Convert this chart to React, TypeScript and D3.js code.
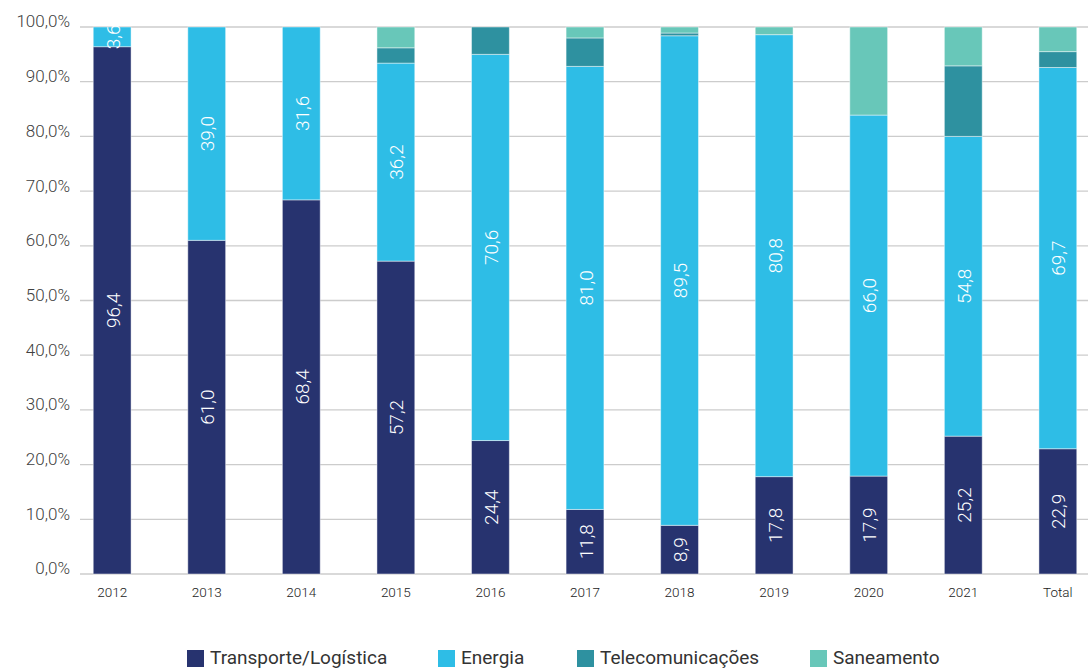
import React from "react";
import * as d3 from "d3";

const categories = ["2012", "2013", "2014", "2015", "2016", "2017", "2018", "2019", "2020", "2021", "Total"];
const seriesNames = ["Transporte/Logística", "Energia", "Telecomunicações", "Saneamento"];
const transporte = [96.4, 61.0, 68.4, 57.2, 24.4, 11.8, 8.9, 17.8, 17.9, 25.2, 22.9];
const energia = [3.6, 39.0, 31.6, 36.2, 70.6, 81.0, 89.5, 80.8, 66.0, 54.8, 69.7];
const telecom = [0, 0, 0, 2.8, 5.0, 5.2, 0.5, 0, 0, 12.9, 2.9];
const saneamento = [0, 0, 0, 3.8, 0, 2.0, 1.1, 1.4, 16.1, 7.1, 4.5];
const labelled = [true, true, false, false];
const colors = ["#27336f", "#2ebde6", "#2e91a0", "#68c7b9"];
const yTicks = [0, 10, 20, 30, 40, 50, 60, 70, 80, 90, 100];

const W = 1088;
const H = 669;
const FONT = "Roboto, 'Noto Sans', sans-serif";

export default function App() {
  const x = d3.scaleBand<string>().domain(categories).range([80, 1090]).paddingInner(0.6).paddingOuter(0.14);
  const y = d3.scaleLinear().domain([0, 100]).range([574, 27]);

  const rows = categories.map((c, i) => ({
    cat: c,
    s0: transporte[i],
    s1: energia[i],
    s2: telecom[i],
    s3: saneamento[i],
  }));
  const stack = d3.stack<any>().keys(["s0", "s1", "s2", "s3"]);
  const layers = stack(rows);
  const fmt = (v: number) => v.toFixed(1).replace(".", ",");

  const legendX = [187, 438, 577, 810];

  return (
    <svg width={W} height={H} style={{ position: "absolute", left: 0, top: 0, background: "#fff" }}>
      {yTicks.map((t) => (
        <g key={t}>
          <line x1={80} x2={1088} y1={y(t)} y2={y(t)} stroke="#cccccc" strokeWidth={1.3} />
          <text x={70} y={y(t) - 4} textAnchor="end" dominantBaseline="middle" fontFamily={FONT} fontWeight={300} fontSize={17} fill="#404040">
            {fmt(t)}%
          </text>
        </g>
      ))}
      {layers.map((layer, li) => (
        <g key={li}>
          {layer.map((d, i) => {
            const h = y(d[0]) - y(d[1]);
            if (h <= 0) return null;
            return (
              <rect
                key={i}
                x={x(categories[i])!}
                width={x.bandwidth()}
                y={y(d[1])}
                height={h}
                fill={colors[li]}
                stroke="rgba(255,255,255,0.45)"
                strokeWidth={1}
              />
            );
          })}
        </g>
      ))}
      {layers.map((layer, li) =>
        labelled[li]
          ? layer.map((d, i) => {
              const v = d[1] - d[0];
              if (v <= 0) return null;
              const cx = x(categories[i])! + x.bandwidth() / 2;
              const cy = (y(d[0]) + y(d[1])) / 2;
              return (
                <text
                  key={`l${li}-${i}`}
                  transform={`translate(${cx + 1},${cy}) rotate(-90)`}
                  textAnchor="middle"
                  dominantBaseline="central"
                  fontFamily={FONT}
                  fontWeight={300}
                  fontSize={19}
                  fill="#ffffff"
                >
                  {fmt(v)}
                </text>
              );
            })
          : null
      )}
      {categories.map((c) => (
        <text
          key={c}
          x={x(c)! + x.bandwidth() / 2}
          y={593}
          textAnchor="middle"
          dominantBaseline="middle"
          fontFamily={FONT}
          fontWeight={300}
          fontSize={13.5}
          fill="#222"
        >
          {c}
        </text>
      ))}
      {seriesNames.map((n, i) => (
        <g key={n} transform={`translate(${legendX[i]},650)`}>
          <rect x={0} y={0} width={17} height={17} fill={colors[i]} />
          <text x={23} y={9} dominantBaseline="middle" fontFamily={FONT} fontSize={19} fill="#333">
            {n}
          </text>
        </g>
      ))}
    </svg>
  );
}
